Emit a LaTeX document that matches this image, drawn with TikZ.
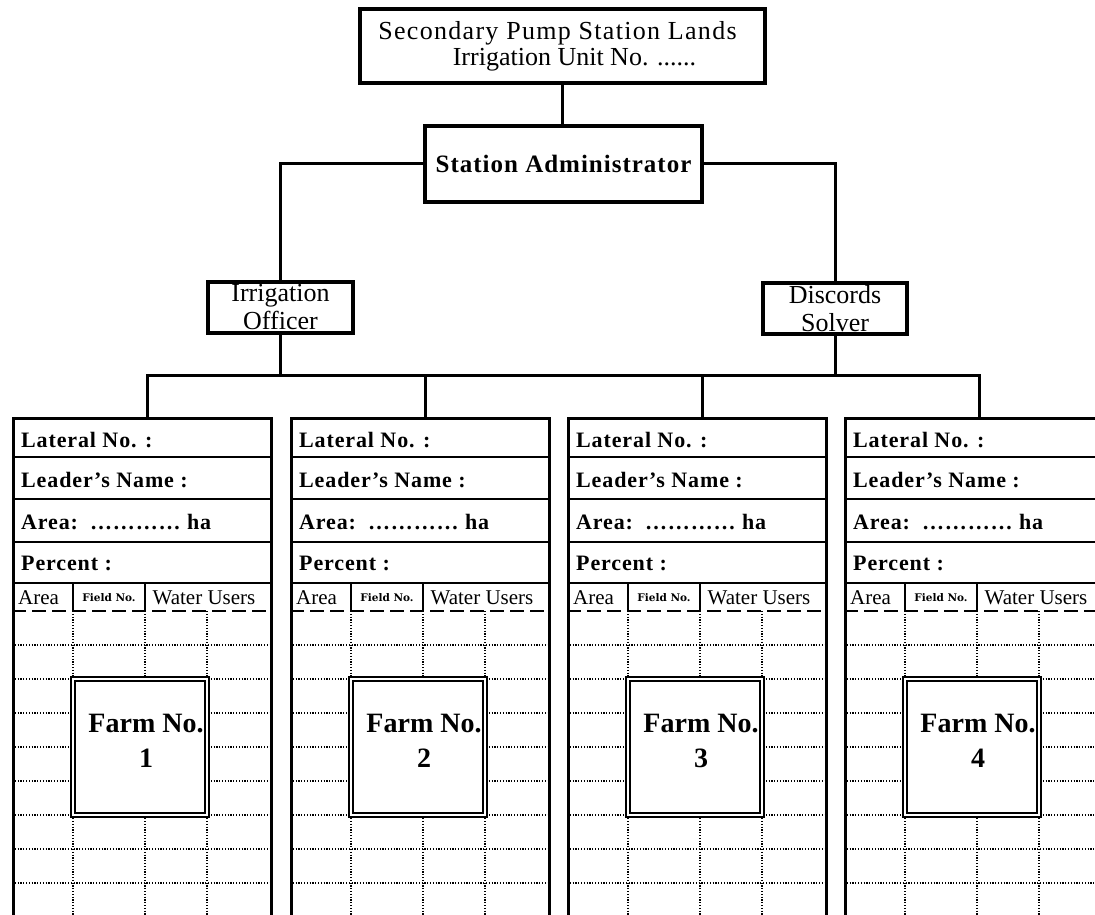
\documentclass[tikz,border=0pt]{standalone}
\usepackage{fontspec}
\setmainfont{Liberation Serif}
\newfontfamily\wideserif[LetterSpace=4]{Liberation Serif}
\newfontfamily\fieldfont{DejaVu Serif}
\usetikzlibrary{calc}

\begin{document}
\begin{tikzpicture}[x=1pt,y=-1pt,
  box/.style={draw,line width=3.2pt,inner sep=0pt,align=center},
  link/.style={line width=3pt},
  rowline/.style={line width=2.8pt},
  colsep/.style={line width=1.4pt},
  cutline/.style={line width=2.8pt,dash pattern=on 14pt off 6pt},
  gridline/.style={line width=1.2pt,dash pattern=on 1.2pt off 1.6pt},
  farmbox/.style={draw,fill=white,line width=1.4pt,double=white,double distance=2.6pt,
    minimum width=134pt,minimum height=136pt,inner sep=0pt},
  rowtxt/.style={anchor=base west,inner sep=0pt,font=\wideserif\bfseries\fontsize{22}{22}\selectfont},
  headtxt/.style={anchor=base,inner sep=0pt,font=\fontsize{21}{21}\selectfont}]
  \useasboundingbox (0,0) rectangle (1095,915);
  \clip (0,0) rectangle (1095,915);

  % upper part of the chart
  \node[box,minimum width=405pt,minimum height=74pt,font=\fontsize{26}{26}\selectfont] (unit) at (562.5,46)
    {{\addfontfeature{LetterSpace=5}Secondary Pump Station Lands\hspace*{10pt}}\\\hspace*{24pt}Irrigation Unit No. ......};
  \node[box,minimum width=277pt,minimum height=76pt,font=\bfseries\fontsize{25}{25}\selectfont\addfontfeature{LetterSpace=4}] (admin) at (563.5,164) {Station Administrator};
  \node[box,minimum width=145pt,minimum height=51pt,font=\fontsize{26}{28}\selectfont] (officer) at (280.5,307.5) {Irrigation\\Officer};
  \node[box,minimum width=144pt,minimum height=51pt,font=\fontsize{26}{28}\selectfont] (solver) at (835,308.5) {Discords\\Solver};

  % one column per farm
  \foreach \i/\xl in {1/12,2/290,3/567,4/844} {
    \node[draw,line width=3.4pt,minimum width=258pt,minimum height=498pt,inner sep=0pt,anchor=north west] (col\i) at (\xl,417) {};
    \coordinate (drop\i) at (\xl+135,375);
    \foreach \y in {457,499,542,583}
      \draw[rowline] (\xl,\y) -- ++(258,0);
    \foreach \dx in {61,133}
      \draw[colsep] (\xl+\dx,583) -- (\xl+\dx,611);
    \foreach \dx in {61,133,195}
      \draw[gridline] (\xl+\dx,611) -- (\xl+\dx,915);
    \foreach \y in {645,679,...,883}
      \draw[gridline] (\xl,\y) -- ++(258,0);
    \draw[cutline] (\xl,611) -- ++(258,0);
    \node[rowtxt] (lat\i) at (\xl+9,447) {Lateral No. :};
    \node[rowtxt] (lead\i) at (\xl+9,487) {Leader’s Name :};
    \node[rowtxt] (area\i) at (\xl+9,529) {Area:\hspace{12pt}………… ha};
    \node[rowtxt] (pct\i) at (\xl+9,570) {Percent :};
    \node[headtxt,anchor=base west] (hA\i) at (\xl+6,604) {Area};
    \node[anchor=base,inner sep=0pt,font=\fieldfont\bfseries\fontsize{10.5}{10.5}\selectfont] (hF\i) at (\xl+97,601) {Field No.};
    \node[headtxt] (hW\i) at (\xl+192,604) {Water Users};
    \node[farmbox] (farm\i) at (\xl+128,747) {};
    \node[align=center,inner sep=0pt,font=\bfseries\fontsize{28}{35}\selectfont] (farmT\i) at (\xl+134,741) {Farm No.\\\i};
  }

  % connectors
  \draw[link] (unit.south) -- (unit.south |- admin.north);
  \draw[link] (admin.west) -| (officer.north);
  \draw[link] (admin.east) -| (solver.north);
  \draw[link] (officer.south) -- (officer.south |- drop1);
  \draw[link] (solver.south) -- (solver.south |- drop1);
  \draw[link] (col1.north -| drop1) |- (drop4) -- (col4.north -| drop4);
  \draw[link] (drop2) -- (col2.north -| drop2);
  \draw[link] (drop3) -- (col3.north -| drop3);
\end{tikzpicture}
\end{document}
